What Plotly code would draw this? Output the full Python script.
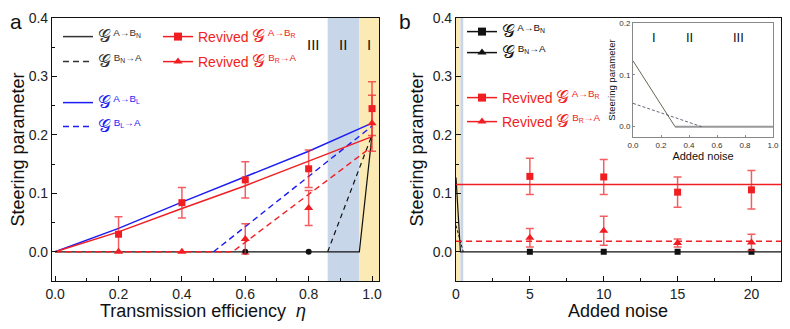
import plotly.graph_objects as go

# ---- panel a: transmission efficiency ----
eta = [0.2, 0.4, 0.6, 0.8, 1.0]
rev_ab = [0.030, 0.084, 0.123, 0.142, 0.245]
rev_ab_err = [0.030, 0.026, 0.031, 0.032, 0.046]
rev_ba = [0.0, 0.0, 0.022, 0.075, 0.220]
rev_ba_err = [0.0, 0.0, 0.026, 0.030, 0.048]
eta_n = [0.6, 0.8]
g_n = [0.0, 0.0]

eta_curve = [0.0, 0.2, 0.4, 0.6, 0.8, 1.0]
blue_ab = [0.0, 0.040, 0.085, 0.128, 0.172, 0.220]
red_ab = [0.0, 0.034, 0.074, 0.113, 0.155, 0.197]
blue_ba_x = [0.50, 1.0]
blue_ba = [0.0, 0.215]
red_ba_x = [0.0, 0.56, 1.0]
red_ba = [0.0, 0.0, 0.180]
black_ab_x = [0.0, 0.96, 1.0]
black_ab = [0.0, 0.0, 0.200]
black_ba_x = [0.86, 1.0]
black_ba = [0.0, 0.200]

# ---- panel b: added noise ----
noise = [5, 10, 15, 20]
rev_ab_b = [0.129, 0.128, 0.102, 0.106]
rev_ab_b_err = [0.031, 0.030, 0.026, 0.033]
rev_ba_b = [0.024, 0.036, 0.015, 0.016]
rev_ba_b_err = [0.016, 0.025, 0.007, 0.014]
g_n_b = [0.0, 0.0, 0.0, 0.0]
noise_line = [0.0, 22.0]
rev_ab_level = [0.115, 0.115]
rev_ba_level = [0.018, 0.018]
noise_ab_x = [0.0, 0.3, 22.0]
noise_ab = [0.127, 0.0, 0.0]
noise_ba_x = [0.0, 0.49]
noise_ba = [0.045, 0.0]

# inset
inset_ab_x = [0.0, 0.3]
inset_ab = [0.127, 0.0]
inset_ba_x = [0.0, 0.49]
inset_ba = [0.045, 0.0]
inset_zero_x = [0.3, 1.0]
inset_zero = [0.0, 0.0]

RED = "#f01e23"
BLUE = "#1c1cf5"
BLACK = "#111111"
ERR = "rgba(240,40,45,0.75)"
YELLOW = "rgb(252,234,180)"
LBLUE = "rgb(200,214,234)"
FONT = "Liberation Sans"

# page body has an 8px margin, so size the figure to fit the window
W, H, OFF = 782, 321, 8
def px_x(p):
    return (p - OFF) / W
def px_y(p):
    return 1 - (p - OFF) / H

fig = go.Figure()

# panel a theory curves
fig.add_trace(go.Scatter(x=black_ab_x, y=black_ab, mode="lines", line=dict(color=BLACK, width=1.2),
                         showlegend=False, xaxis="x", yaxis="y"))
fig.add_trace(go.Scatter(x=black_ba_x, y=black_ba, mode="lines", line=dict(color=BLACK, width=1.2, dash="5px,4px"),
                         showlegend=False, xaxis="x", yaxis="y"))
fig.add_trace(go.Scatter(x=eta_curve, y=blue_ab, mode="lines", line=dict(color=BLUE, width=1.4),
                         showlegend=False, xaxis="x", yaxis="y"))
fig.add_trace(go.Scatter(x=blue_ba_x, y=blue_ba, mode="lines", line=dict(color=BLUE, width=1.4, dash="6px,4px"),
                         showlegend=False, xaxis="x", yaxis="y"))
fig.add_trace(go.Scatter(x=eta_curve, y=red_ab, mode="lines", line=dict(color=RED, width=1.4),
                         showlegend=False, xaxis="x", yaxis="y"))
fig.add_trace(go.Scatter(x=red_ba_x, y=red_ba, mode="lines", line=dict(color=RED, width=1.4, dash="6px,4px"),
                         showlegend=False, xaxis="x", yaxis="y"))
fig.add_trace(go.Scatter(x=eta_n, y=g_n, mode="markers", marker=dict(color=BLACK, size=6, symbol="circle"),
                         showlegend=False, xaxis="x", yaxis="y"))
fig.add_trace(go.Scatter(x=eta, y=rev_ab, mode="markers", marker=dict(color=RED, size=7, symbol="square"),
                         error_y=dict(array=rev_ab_err, color=ERR, thickness=1.5, width=4),
                         showlegend=False, xaxis="x", yaxis="y"))
fig.add_trace(go.Scatter(x=eta, y=rev_ba, mode="markers", marker=dict(color=RED, size=8, symbol="triangle-up"),
                         error_y=dict(array=rev_ba_err, color=ERR, thickness=1.5, width=4),
                         showlegend=False, xaxis="x", yaxis="y"))

# panel b
fig.add_trace(go.Scatter(x=noise_ab_x, y=noise_ab, mode="lines", line=dict(color=BLACK, width=1.2),
                         showlegend=False, xaxis="x2", yaxis="y2"))
fig.add_trace(go.Scatter(x=noise_ba_x, y=noise_ba, mode="lines", line=dict(color=BLACK, width=1.0, dash="3px,2px"),
                         showlegend=False, xaxis="x2", yaxis="y2"))
fig.add_trace(go.Scatter(x=noise_line, y=rev_ab_level, mode="lines", line=dict(color=RED, width=1.4),
                         showlegend=False, xaxis="x2", yaxis="y2"))
fig.add_trace(go.Scatter(x=noise_line, y=rev_ba_level, mode="lines", line=dict(color=RED, width=1.4, dash="6px,4px"),
                         showlegend=False, xaxis="x2", yaxis="y2"))
fig.add_trace(go.Scatter(x=noise, y=g_n_b, mode="markers", marker=dict(color=BLACK, size=6, symbol="square"),
                         showlegend=False, xaxis="x2", yaxis="y2"))
fig.add_trace(go.Scatter(x=noise, y=rev_ab_b, mode="markers", marker=dict(color=RED, size=7, symbol="square"),
                         error_y=dict(array=rev_ab_b_err, color=ERR, thickness=1.5, width=4),
                         showlegend=False, xaxis="x2", yaxis="y2"))
fig.add_trace(go.Scatter(x=noise, y=rev_ba_b, mode="markers", marker=dict(color=RED, size=8, symbol="triangle-up"),
                         error_y=dict(array=rev_ba_b_err, color=ERR, thickness=1.5, width=4),
                         showlegend=False, xaxis="x2", yaxis="y2"))

# inset
fig.add_trace(go.Scatter(x=inset_zero_x, y=inset_zero, mode="lines", line=dict(color="#999999", width=2),
                         showlegend=False, xaxis="x3", yaxis="y3"))
fig.add_trace(go.Scatter(x=inset_ab_x, y=inset_ab, mode="lines", line=dict(color="#555544", width=0.9),
                         showlegend=False, xaxis="x3", yaxis="y3"))
fig.add_trace(go.Scatter(x=inset_ba_x, y=inset_ba, mode="lines", line=dict(color="#555566", width=0.9, dash="3px,2px"),
                         showlegend=False, xaxis="x3", yaxis="y3"))

# legend entries, one small legend per entry so each can be placed
G = "<span style='font-size:18px'>𝒢</span>"
legends = {}
def leg(name, key, color, pos, dash="solid", symbol=None):
    mode = "lines+markers" if symbol else "lines"
    fig.add_trace(go.Scatter(x=[None], y=[None], mode=mode, name=name, legend=key,
                             line=dict(color=color, width=1.5, dash=dash),
                             marker=dict(color=color, size=8, symbol=symbol or "circle"),
                             xaxis="x", yaxis="y"))
    legends[key] = dict(x=px_x(pos[0] - 5), y=px_y(pos[1]), xanchor="left", yanchor="middle",
                        bgcolor="rgba(0,0,0,0)", itemwidth=30,
                        font=dict(family=FONT, size=14, color=color))

leg(f"{G}<sup> A→B<sub>N</sub></sup>", "legend", "#333333", (63, 37))
leg(f"{G}<sup> B<sub>N</sub>→A</sup>", "legend2", "#333333", (63, 62), dash="6px,4px")
leg(f"{G}<sup> A→B<sub>L</sub></sup>", "legend3", BLUE, (63, 103))
leg(f"{G}<sup> B<sub>L</sub>→A</sup>", "legend4", BLUE, (63, 127), dash="6px,4px")
leg(f"Revived {G}<sup> A→B<sub>R</sub></sup>", "legend5", RED, (163, 37), symbol="square")
leg(f"Revived {G}<sup> B<sub>R</sub>→A</sup>", "legend6", RED, (163, 62), symbol="triangle-up")
leg(f"{G}<sup> A→B<sub>N</sub></sup>", "legend7", BLACK, (467, 32), symbol="square")
leg(f"{G}<sup> B<sub>N</sub>→A</sup>", "legend8", BLACK, (467, 53), symbol="triangle-up")
leg(f"Revived {G}<sup> A→B<sub>R</sub></sup>", "legend9", RED, (467, 98), symbol="square")
leg(f"Revived {G}<sup> B<sub>R</sub>→A</sup>", "legend10", RED, (467, 122), symbol="triangle-up")

shapes = [
    dict(type="rect", xref="x", yref="y domain", x0=0.86, x1=0.96, y0=0, y1=1,
         fillcolor=LBLUE, line_width=0, layer="below"),
    dict(type="rect", xref="x", yref="y domain", x0=0.96, x1=1.022, y0=0, y1=1,
         fillcolor=YELLOW, line_width=0, layer="below"),
    dict(type="rect", xref="x2", yref="y2 domain", x0=0.0, x1=0.3, y0=0, y1=1,
         fillcolor=YELLOW, line_width=0, layer="below"),
    dict(type="rect", xref="x2", yref="y2 domain", x0=0.3, x1=0.49, y0=0, y1=1,
         fillcolor=LBLUE, line_width=0, layer="below"),
    dict(type="rect", xref="x3", yref="y3 domain", x0=0.0, x1=0.3, y0=0, y1=1,
         fillcolor=YELLOW, line_width=0, layer="below"),
    dict(type="rect", xref="x3", yref="y3 domain", x0=0.3, x1=0.49, y0=0, y1=1,
         fillcolor=LBLUE, line_width=0, layer="below"),
]

annotations = [
    dict(text="a", xref="paper", yref="paper", x=0.0, y=1.0, xanchor="left", yanchor="top",
         showarrow=False, font=dict(family=FONT, size=21, color=BLACK)),
    dict(text="b", xref="paper", yref="paper", x=px_x(397), y=1.0, xanchor="left", yanchor="top",
         showarrow=False, font=dict(family=FONT, size=21, color=BLACK)),
    dict(text="Transmission efficiency  <i>η</i>", xref="paper", yref="paper", x=px_x(203), y=px_y(311),
         xanchor="center", yanchor="middle", showarrow=False, font=dict(family=FONT, size=18, color=BLACK)),
    dict(text="Added noise", xref="paper", yref="paper", x=px_x(618), y=px_y(311),
         xanchor="center", yanchor="middle", showarrow=False, font=dict(family=FONT, size=18, color=BLACK)),
]
for txt, xv in [("III", 0.814), ("II", 0.908), ("I", 0.99)]:
    annotations.append(dict(text=txt, x=xv, y=0.354, xref="x", yref="y", showarrow=False,
                            font=dict(family=FONT, size=15, color=BLACK)))
for txt, xv in [("I", 0.15), ("II", 0.4), ("III", 0.75)]:
    annotations.append(dict(text=txt, x=xv, y=0.172, xref="x3", yref="y3", showarrow=False,
                            font=dict(family=FONT, size=13, color=BLACK)))

axis_common = dict(showline=True, linecolor=BLACK, linewidth=1.2, mirror=True, showgrid=False,
                   zeroline=False, ticks="inside", ticklen=5, tickcolor=BLACK, automargin=False,
                   tickfont=dict(family=FONT, size=14, color="#222222"))
inset_common = dict(showline=True, linecolor="#888888", linewidth=1, mirror=True, showgrid=False,
                    zeroline=False, ticks="inside", ticklen=2, tickcolor="#888888", automargin=False,
                    tickfont=dict(family=FONT, size=8, color="#333333"))

fig.update_layout(
    width=W, height=H,
    margin=dict(l=0, r=0, t=0, b=0),
    paper_bgcolor="white", plot_bgcolor="white",
    font=dict(family=FONT, color=BLACK),
    xaxis=dict(axis_common, domain=[px_x(52), px_x(379)], range=[-0.01, 1.022], dtick=0.2, tickformat=".1f",
               minor=dict(ticks="inside", dtick=0.1, ticklen=3, tickcolor=BLACK),
               anchor="y"),
    yaxis=dict(axis_common, domain=[px_y(281), px_y(18)], range=[-0.05, 0.4], dtick=0.1, tickformat=".1f",
               minor=dict(ticks="inside", dtick=0.05, ticklen=3, tickcolor=BLACK),
               title=dict(text="Steering parameter", font=dict(size=18), standoff=6),
               anchor="x"),
    xaxis2=dict(axis_common, domain=[px_x(456), px_x(781)], range=[0, 22], dtick=5,
                minor=dict(ticks="inside", dtick=2.5, ticklen=3, tickcolor=BLACK),
                anchor="y2"),
    yaxis2=dict(axis_common, domain=[px_y(281), px_y(18)], range=[-0.05, 0.4], dtick=0.1, tickformat=".1f",
                minor=dict(ticks="inside", dtick=0.05, ticklen=3, tickcolor=BLACK),
                title=dict(text="Steering parameter", font=dict(size=18), standoff=4),
                anchor="x2"),
    xaxis3=dict(inset_common, domain=[px_x(633), px_x(773)], range=[0, 1.0], dtick=0.2, tickformat=".1f",
                title=dict(text="Added noise", font=dict(size=11), standoff=1),
                anchor="y3"),
    yaxis3=dict(inset_common, domain=[px_y(137), px_y(23)], range=[-0.02, 0.2], dtick=0.1, tickformat=".1f",
                title=dict(text="Steering parameter", font=dict(size=9.5), standoff=1),
                anchor="x3"),
    shapes=shapes,
    annotations=annotations,
    **legends,
)

fig.write_html("out.html")
